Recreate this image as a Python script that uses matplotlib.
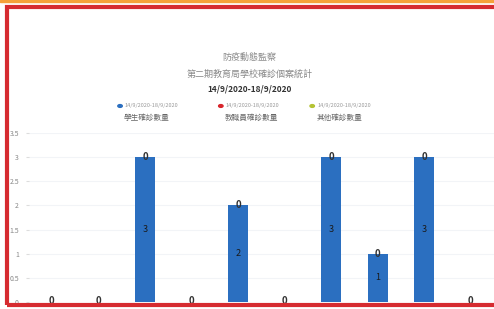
import numpy as np
import matplotlib.pyplot as plt
from matplotlib.patches import Rectangle

plt.rcParams['font.family'] = ['Noto Sans CJK TC', 'DejaVu Sans']

# data
days = ["1", "2", "3", "4", "5", "6", "7", "8", "9", "10"]
blue_vals = [0, 0, 3, 0, 2, 0, 3, 1, 3, 0]
red_vals = [0, 0, 0, 0, 0, 0, 0, 0, 0, 0]
green_vals = [0, 0, 0, 0, 0, 0, 0, 0, 0, 0]
series_names = ["14/9/2020-18/9/2020\n學生確診數量",
                "14/9/2020-18/9/2020\n教職員確診數量",
                "14/9/2020-18/9/2020\n其他確診數量"]
series_colors = ["#2b6fc0", "#d8262c", "#b5c334"]
yticks = [0, 0.5, 1, 1.5, 2, 2.5, 3, 3.5]

fig = plt.figure(figsize=(4.94, 3.09), dpi=100)
ax = fig.add_axes([0.058, 0.0227, 0.942, 0.547])

x = np.arange(len(days))
ax.bar(x, blue_vals, width=0.43, color=series_colors[0], zorder=2)
bottom2 = np.array(blue_vals)
ax.bar(x, red_vals, width=0.43, bottom=bottom2, color=series_colors[1], zorder=2)
bottom3 = bottom2 + np.array(red_vals)
ax.bar(x, green_vals, width=0.43, bottom=bottom3, color=series_colors[2], zorder=2)

for i, v in enumerate(blue_vals):
    if v > 0:
        ax.text(i, v / 2, str(v), ha='center', va='center', fontsize=6.5,
                color='#1a1a1a', zorder=3)
        ax.text(i, v, "0", ha='center', va='center', fontsize=7,
                color='#333333', fontweight='bold', zorder=3)
    else:
        ax.text(i, 0.03, "0", ha='center', va='center', fontsize=7,
                color='#333333', fontweight='bold', zorder=3)

ax.set_xlim(-0.5, len(days) - 0.5)
ax.set_ylim(0, 3.5)
ax.set_yticks(yticks)
ax.set_yticklabels([("%g" % t) for t in yticks], fontsize=5, color='#888888')
ax.set_xticks([])
ax.tick_params(axis='y', length=2, color='#dddddd', pad=5)
ax.grid(axis='y', color='#f2f4f7', linewidth=0.8, zorder=0)
for s in ax.spines.values():
    s.set_visible(False)

# titles
fig.text(0.505, 0.815, "防疫動態監察", ha='center', va='center', fontsize=6.5, color='#8a8a8a')
fig.text(0.505, 0.76, "第二期教育局學校確診個案統計", ha='center', va='center', fontsize=6.5, color='#8a8a8a')
fig.text(0.505, 0.712, "14/9/2020-18/9/2020", ha='center', va='center', fontsize=6,
         color='#333333', fontweight='bold')

# legend
leg_x = [0.243, 0.447, 0.632]
for lx, name, c in zip(leg_x, series_names, series_colors):
    top, bot = name.split("\n")
    fig.patches.append(plt.Circle((lx, 0.657), 0.0045, transform=fig.transFigure,
                                  color=c, figure=fig))
    fig.text(lx + 0.01, 0.657, top, ha='left', va='center', fontsize=4, color='#999999')
    fig.text(lx + 0.008, 0.62, bot, ha='left', va='center', fontsize=5.5, color='#666666')

# frame
fig.patches.append(Rectangle((0, 1 - 2 / 309), 1, 2 / 309, transform=fig.transFigure,
                             color='#f5a13a', figure=fig))
fig.patches.append(Rectangle((7 / 494, 4 / 309), 1.05, 1 - 11 / 309, transform=fig.transFigure,
                             fill=False, edgecolor='#d62b30', linewidth=3, figure=fig, zorder=10))

fig.savefig("out.png", dpi=100)
